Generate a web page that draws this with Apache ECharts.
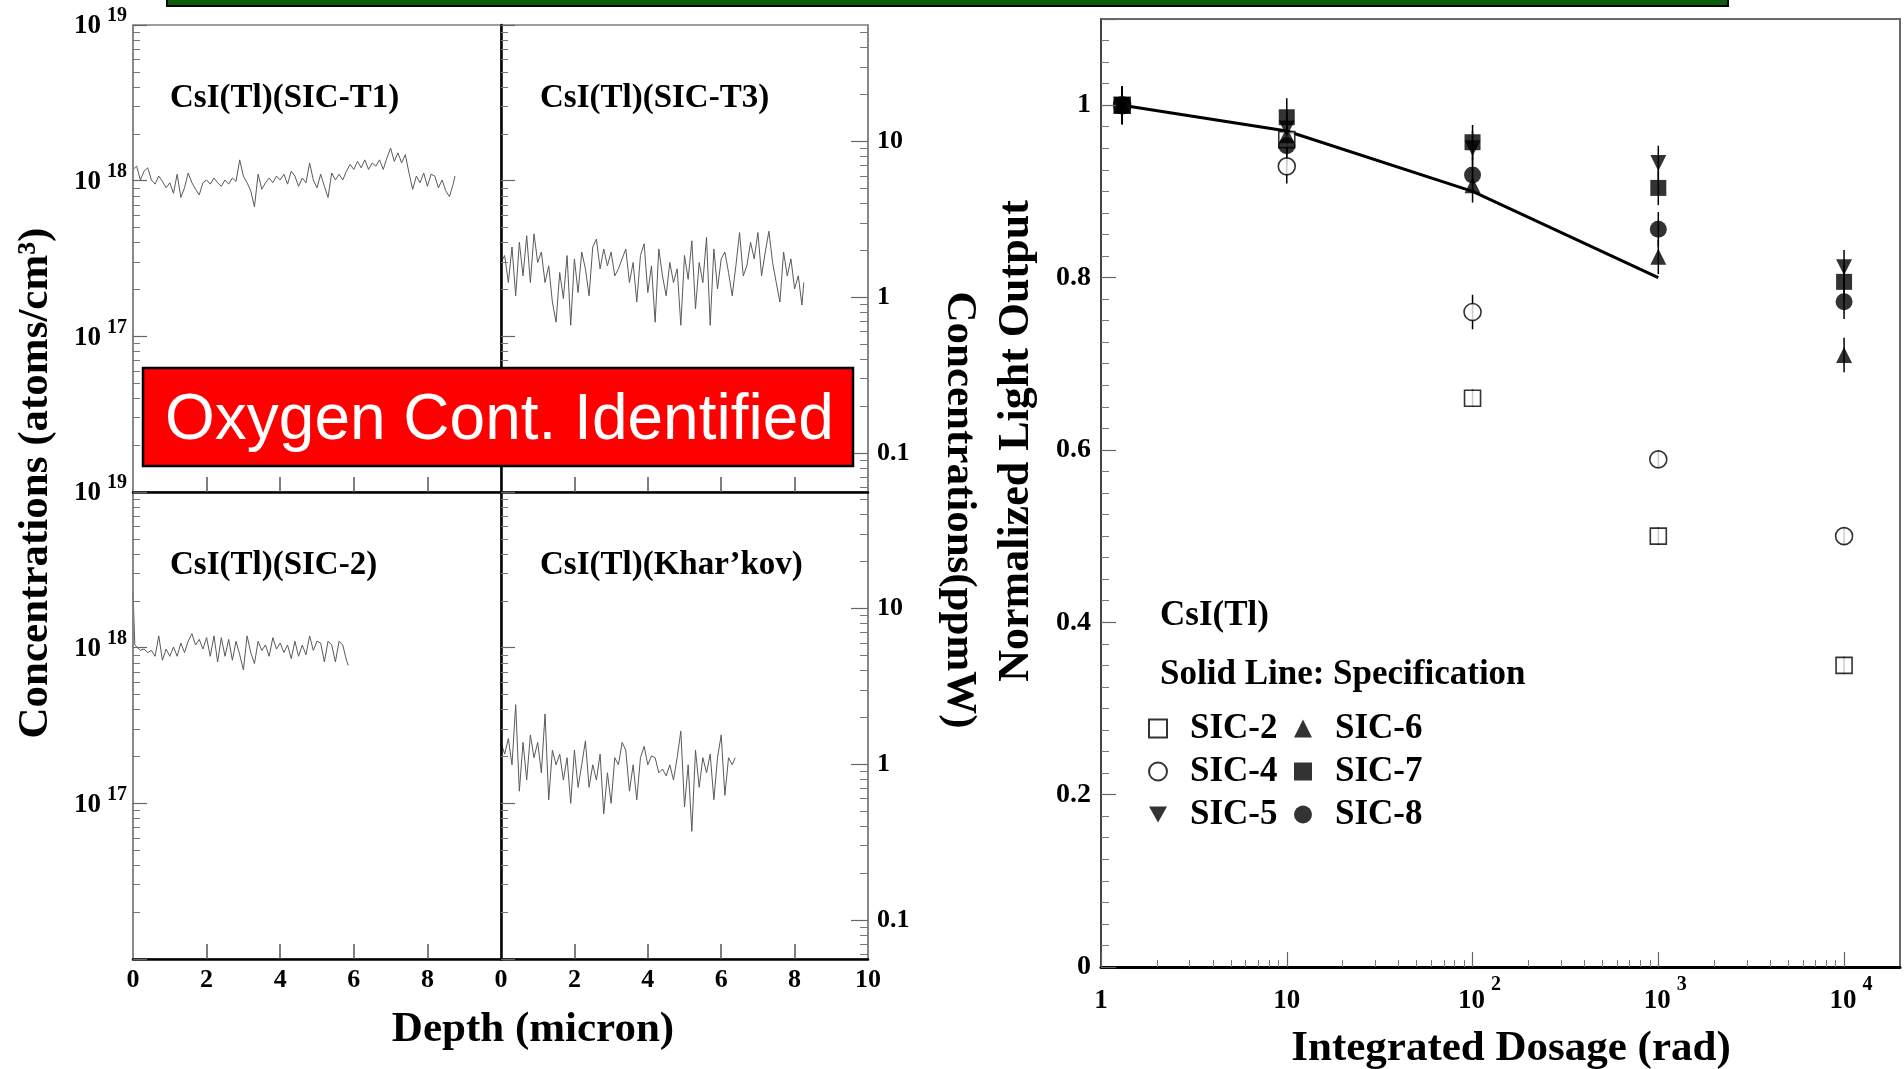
<!DOCTYPE html>
<html>
<head>
<meta charset="utf-8">
<script src="https://cdn.jsdelivr.net/npm/echarts@6/dist/echarts.min.js"></script>
<style>
html,body{margin:0;padding:0;background:#ffffff;}
#c{width:1904px;height:1069px;}
</style>
</head>
<body>
<div id="c"></div>
<script>
// ---------------- DATA ----------------
// SIMS depth profiles: [depth (micron), concentration]
// CsI(Tl)(SIC-T1): concentration in units of 1e18 atoms/cm^3
const sicT1_e18 = [[0,1.18],[0.1,1.24],[0.2,1.01],[0.3,1.15],[0.4,1.21],[0.5,1.01],[0.6,0.95],[0.7,1.07],[0.8,0.99],[0.9,0.90],[1.0,0.97],[1.1,0.83],[1.2,1.10],[1.3,0.78],[1.4,0.90],[1.5,1.12],[1.6,0.97],[1.7,0.88],[1.8,0.81],[1.9,0.97],[2.0,1.01],[2.1,0.95],[2.2,1.04],[2.3,0.97],[2.4,0.92],[2.5,1.01],[2.6,0.95],[2.7,1.04],[2.8,0.99],[2.9,1.36],[3.0,1.07],[3.1,0.97],[3.2,0.86],[3.3,0.68],[3.4,1.10],[3.5,0.88],[3.6,0.97],[3.7,1.04],[3.8,0.97],[3.9,1.07],[4.0,1.01],[4.1,1.10],[4.2,0.95],[4.3,1.15],[4.4,1.07],[4.5,0.92],[4.6,1.04],[4.7,0.97],[4.8,1.30],[4.9,1.01],[5.0,0.90],[5.1,1.10],[5.2,0.92],[5.3,0.78],[5.4,1.12],[5.5,1.01],[5.6,1.10],[5.7,1.01],[5.8,1.15],[5.9,1.27],[6.0,1.18],[6.1,1.33],[6.2,1.21],[6.3,1.36],[6.4,1.18],[6.5,1.30],[6.6,1.24],[6.7,1.36],[6.8,1.18],[6.9,1.40],[7.0,1.62],[7.1,1.33],[7.2,1.51],[7.3,1.30],[7.4,1.47],[7.5,1.12],[7.6,0.88],[7.7,1.07],[7.8,0.97],[7.9,1.12],[8.0,0.92],[8.1,1.10],[8.2,1.07],[8.3,0.90],[8.4,1.01],[8.5,0.86],[8.6,0.79],[8.7,0.95],[8.75,1.07]];
// CsI(Tl)(SIC-T3): concentration in ppmW
const sicT3_ppm = [[0,1.67],[0.1,1.85],[0.2,1.24],[0.3,2.1],[0.4,1.02],[0.5,2.25],[0.6,1.37],[0.7,2.48],[0.8,1.24],[0.9,2.55],[1.0,1.67],[1.1,1.95],[1.2,1.24],[1.3,1.59],[1.4,0.93],[1.5,0.69],[1.6,1.44],[1.7,0.98],[1.8,1.85],[1.9,0.66],[2.0,1.76],[2.1,1.07],[2.2,1.95],[2.3,1.52],[2.4,1.02],[2.5,2.1],[2.6,2.36],[2.7,1.52],[2.8,2.04],[2.9,1.59],[3.0,1.95],[3.1,1.37],[3.2,1.52],[3.3,1.76],[3.4,2.04],[3.5,1.24],[3.6,1.67],[3.7,0.93],[3.8,1.85],[3.9,2.2],[4.0,1.07],[4.1,1.59],[4.2,0.69],[4.3,2.04],[4.4,1.37],[4.5,1.02],[4.6,1.67],[4.7,1.24],[4.8,1.52],[4.9,0.66],[5.0,1.85],[5.1,1.3],[5.2,2.3],[5.3,0.84],[5.4,1.67],[5.5,1.24],[5.6,2.42],[5.7,0.66],[5.8,2.04],[5.9,1.13],[6.0,1.76],[6.1,1.95],[6.2,1.44],[6.3,1.02],[6.4,1.59],[6.5,2.6],[6.6,1.37],[6.7,1.59],[6.8,2.25],[6.9,1.76],[7.0,2.6],[7.1,1.37],[7.2,1.95],[7.3,2.65],[7.4,1.67],[7.5,1.24],[7.6,0.93],[7.7,1.95],[7.8,1.37],[7.9,1.76],[8.0,1.13],[8.1,1.37],[8.2,0.89],[8.25,1.24]];
// CsI(Tl)(SIC-2): concentration in units of 1e18 atoms/cm^3
const sic2_e18 = [[0,2.25],[0.05,1.04],[0.1,1.04],[0.2,0.96],[0.3,0.98],[0.4,0.93],[0.5,0.96],[0.6,0.88],[0.7,1.19],[0.8,0.83],[0.9,0.98],[1.0,0.88],[1.1,1.01],[1.2,0.88],[1.3,1.07],[1.4,0.93],[1.5,1.10],[1.6,1.23],[1.7,1.04],[1.8,1.13],[1.9,0.98],[2.0,1.16],[2.1,0.88],[2.2,1.19],[2.3,0.81],[2.4,1.16],[2.5,0.88],[2.6,1.13],[2.7,0.83],[2.8,1.10],[2.9,0.90],[3.0,0.72],[3.1,1.19],[3.2,0.93],[3.3,0.79],[3.4,1.10],[3.5,0.96],[3.6,1.04],[3.7,0.88],[3.8,1.16],[3.9,0.98],[4.0,1.07],[4.1,0.93],[4.2,1.04],[4.3,0.85],[4.4,1.10],[4.5,0.88],[4.6,1.04],[4.7,0.90],[4.8,1.19],[4.9,0.96],[5.0,1.10],[5.1,1.07],[5.2,0.81],[5.3,1.10],[5.4,1.04],[5.5,0.81],[5.6,1.10],[5.7,1.04],[5.8,0.83],[5.85,0.77]];
// CsI(Tl)(Khar'kov): concentration in ppmW
const kharkov_ppm = [[0,1.38],[0.1,1.16],[0.2,1.46],[0.3,0.99],[0.4,2.41],[0.5,0.67],[0.6,1.38],[0.7,0.79],[0.8,1.54],[0.9,1.10],[1.0,1.38],[1.1,0.88],[1.2,2.10],[1.3,0.59],[1.4,1.23],[1.5,0.99],[1.6,1.16],[1.7,0.79],[1.8,1.10],[1.9,0.56],[2.0,1.23],[2.1,0.71],[2.2,0.99],[2.3,1.41],[2.4,0.71],[2.5,0.99],[2.6,0.79],[2.7,1.16],[2.8,0.48],[2.9,0.88],[3.0,0.56],[3.1,1.10],[3.2,0.99],[3.3,1.38],[3.4,1.23],[3.5,0.67],[3.6,0.99],[3.7,0.59],[3.8,1.10],[3.9,1.30],[4.0,0.99],[4.1,1.13],[4.2,1.10],[4.3,0.88],[4.4,0.93],[4.5,0.84],[4.6,0.99],[4.7,0.79],[4.8,1.10],[4.9,1.63],[5.0,0.53],[5.1,0.99],[5.2,0.37],[5.3,1.23],[5.4,0.71],[5.5,1.10],[5.6,0.88],[5.7,1.16],[5.8,0.59],[5.9,1.10],[6.0,1.54],[6.1,0.63],[6.2,1.10],[6.3,0.99],[6.38,1.10]];

// Radiation damage: normalized light output vs integrated dosage (rad)
const dose = [1.3, 10, 100, 1000, 10000];
const sic2Out = [1.0, 0.96, 0.66, 0.50, 0.35];
const sic4Out = [1.0, 0.929, 0.76, 0.589, 0.50];
const sic5Out = [1.0, 0.973, 0.95, 0.933, 0.812];
const sic6Out = [1.0, 0.965, 0.907, 0.824, 0.71];
const sic7Out = [1.0, 0.986, 0.957, 0.904, 0.795];
const sic8Out = [1.0, 0.953, 0.919, 0.856, 0.772];
const sic2Err = [0.02, 0.015, 0.01, 0.01, 0.01];
const sic4Err = [0.02, 0.02, 0.02, 0.01, 0.01];
const filledErr = [0.022, 0.022, 0.02, 0.02, 0.02];
const specDose = [1.3, 10, 100, 1000];
const specOut = [1.0, 0.97, 0.90, 0.80];

// Tick positions / labels
const atomsMajor = [1e16, 1e17, 1e18, 1e19];
const atomsLabels = [1e17, 1e18, 1e19];
const atomsMinor = [2e16,3e16,4e16,5e16,6e16,7e16,8e16,9e16,2e17,3e17,4e17,5e17,6e17,7e17,8e17,9e17,2e18,3e18,4e18,5e18,6e18,7e18,8e18,9e18];
const ppmMajor = [0.1, 1, 10];
const ppmMinor = [0.06,0.07,0.08,0.09,0.2,0.3,0.4,0.5,0.6,0.7,0.8,0.9,2,3,4,5,6,7,8,9,20,30,40,50];
const depthTicks = [2, 4, 6, 8];
const depthLabelsC = [0, 2, 4, 6, 8];
const depthLabelsD = [0, 2, 4, 6, 8, 10];
const doseMajor = [1, 10, 100, 1000, 10000];
const doseMinor = [2,3,4,5,6,7,8,9,20,30,40,50,60,70,80,90,200,300,400,500,600,700,800,900,2000,3000,4000,5000,6000,7000,8000,9000];

// ---------------- STYLE ----------------
const SERIF = '"Liberation Serif","Times New Roman",serif';
const SANS = '"Liberation Sans",Arial,sans-serif';
const GRAY = '#808080';
const tickFont = {fontFamily: SERIF, fontWeight: 'bold', fontSize: 26, color: '#000'};
function makeRich(boxH) {
  return {
    b: {fontFamily: SERIF, fontWeight: 'bold', fontSize: 27, color: '#000', lineHeight: 27, verticalAlign: 'bottom', padding: [0,0,4,0]},
    s: {fontFamily: SERIF, fontWeight: 'bold', fontSize: 20, color: '#000', lineHeight: 18, verticalAlign: 'top', padding: [0,0,0,6]},
    h: {lineHeight: boxH, width: 0},
    sp: {width: 14}
  };
}
function atomsFmt(v) { return '{b|10}{s|' + Math.round(Math.log10(v)) + '}{h|}'; }
function doseFmt(v) {
  const e = Math.round(Math.log10(v));
  if (e === 0) return '{b|1}{h|}';
  if (e === 1) return '{b|10}{h|}';
  return '{sp|}{b|10}{s|' + e + '}{h|}';
}
const PPM_MIN = 0.056, PPM_MAX = 56;

const gridDefs = [
  {left: 133, top: 25, width: 368, height: 467},
  {left: 501, top: 25, width: 367, height: 467},
  {left: 133, top: 492, width: 368, height: 467},
  {left: 501, top: 492, width: 367, height: 467},
  {left: 1101, top: 19, width: 799, height: 948}
];
const grid = gridDefs.map((g, i) => Object.assign({
  show: true, borderColor: i === 4 ? '#6a6a6a' : GRAY, borderWidth: i === 4 ? 2 : 1.5,
  backgroundColor: 'rgba(0,0,0,0)', containLabel: false, outerBoundsMode: 'none'
}, g));

function depthAxis(gi, labels) {
  return {
    type: 'value', gridIndex: gi, min: 0, max: 10, position: 'bottom', z: 5,
    axisLine: {show: true, onZero: false, lineStyle: {color: '#000', width: 2.5}},
    axisTick: {show: true, inside: true, length: 15, customValues: depthTicks, lineStyle: {color: '#555', width: 1.5}},
    axisLabel: labels ? Object.assign({show: true, customValues: labels, margin: 8}, tickFont) : {show: false},
    splitLine: {show: false}
  };
}
function atomsAxis(gi, lineColor, lineWidth, withLabels) {
  return {
    type: 'log', logBase: 10, gridIndex: gi, min: 1e16, max: 1e19, position: 'left', z: 5,
    axisLine: {show: true, onZero: false, lineStyle: {color: lineColor, width: lineWidth}},
    axisTick: {show: true, inside: true, length: 14, customValues: atomsMajor, lineStyle: {color: '#666', width: 1.2}},
    axisLabel: withLabels ? {show: true, customValues: atomsLabels, formatter: atomsFmt, rich: makeRich(38), margin: 6} : {show: false},
    splitLine: {show: false}
  };
}
function atomsMinorAxis(gi) {
  return {
    type: 'log', logBase: 10, gridIndex: gi, min: 1e16, max: 1e19, position: 'left', z: 5,
    axisLine: {show: false},
    axisTick: {show: true, inside: true, length: 7, customValues: atomsMinor, lineStyle: {color: '#777', width: 1}},
    axisLabel: {show: false}, splitLine: {show: false}
  };
}
function ppmAxis(gi) {
  return {
    type: 'log', logBase: 10, gridIndex: gi, min: PPM_MIN, max: PPM_MAX, position: 'right', z: 5,
    axisLine: {show: true, onZero: false, lineStyle: {color: GRAY, width: 1.5}},
    axisTick: {show: true, inside: true, length: 17, customValues: ppmMajor, lineStyle: {color: '#666', width: 1.2}},
    axisLabel: Object.assign({show: true, customValues: ppmMajor, formatter: v => String(v), margin: 9}, tickFont),
    splitLine: {show: false}
  };
}
function ppmMinorAxis(gi) {
  return {
    type: 'log', logBase: 10, gridIndex: gi, min: PPM_MIN, max: PPM_MAX, position: 'right', z: 5,
    axisLine: {show: false},
    axisTick: {show: true, inside: true, length: 8, customValues: ppmMinor, lineStyle: {color: '#777', width: 1}},
    axisLabel: {show: false}, splitLine: {show: false}
  };
}

const xAxis = [
  depthAxis(0, null), depthAxis(1, null), depthAxis(2, depthLabelsC), depthAxis(3, depthLabelsD),
  {
    type: 'log', logBase: 10, gridIndex: 4, min: 1, max: 20000, position: 'bottom', z: 5,
    axisLine: {show: true, onZero: false, lineStyle: {color: '#000', width: 3}},
    axisTick: {show: true, inside: true, length: 15, customValues: doseMajor, lineStyle: {color: '#666', width: 1.2}},
    axisLabel: {show: true, customValues: doseMajor, formatter: doseFmt, rich: makeRich(44), margin: 8},
    splitLine: {show: false}
  },
  {
    type: 'log', logBase: 10, gridIndex: 4, min: 1, max: 20000, position: 'bottom', z: 5,
    axisLine: {show: false},
    axisTick: {show: true, inside: true, length: 7, customValues: doseMinor, lineStyle: {color: '#777', width: 1}},
    axisLabel: {show: false}, splitLine: {show: false}
  }
];

const yAxis = [
  atomsAxis(0, GRAY, 1.5, true),   // 0
  atomsMinorAxis(0),               // 1
  atomsAxis(1, '#000', 2.5, false),// 2
  atomsMinorAxis(1),               // 3
  ppmAxis(1),                      // 4
  ppmMinorAxis(1),                 // 5
  atomsAxis(2, GRAY, 1.5, true),   // 6
  atomsMinorAxis(2),               // 7
  atomsAxis(3, '#000', 2.5, false),// 8
  atomsMinorAxis(3),               // 9
  ppmAxis(3),                      // 10
  ppmMinorAxis(3),                 // 11
  {                                // 12
    type: 'value', gridIndex: 4, min: 0, max: 1.1, interval: 0.2, position: 'left', z: 5,
    axisLine: {show: true, onZero: false, lineStyle: {color: '#444', width: 2}},
    axisTick: {show: true, inside: true, length: 15, lineStyle: {color: '#666', width: 1.2}},
    minorTick: {show: true, splitNumber: 8, length: 8, lineStyle: {color: '#777', width: 1}},
    axisLabel: {show: true, margin: 10, showMaxLabel: false, fontSize: 28, fontFamily: SERIF, fontWeight: 'bold', color: '#000'},
    splitLine: {show: false}
  }
];

const traceStyle = {color: '#5a5a5a', width: 1};
function profile(name, xi, yi, pts, scale) {
  return {
    type: 'line', name: name, xAxisIndex: xi, yAxisIndex: yi,
    data: pts.map(p => [p[0], p[1] * scale]),
    showSymbol: false, symbol: 'none', lineStyle: traceStyle, z: 3, silent: true
  };
}
const zip = (xs, ys) => xs.map((x, i) => [x, ys[i]]);
function sample(name, ys, symbol, filled, size) {
  return {
    type: 'scatter', name: name, xAxisIndex: 4, yAxisIndex: 12,
    data: zip(dose, ys), symbol: symbol, symbolSize: size, z: 4,
    itemStyle: filled ? {color: '#000', borderColor: '#000', borderWidth: 0}
                      : {color: '#fff', borderColor: '#000', borderWidth: 1.6}
  };
}
const triDown = 'path://M0,0 L10,0 L5,9 Z';
const errData = [];
[[sic2Out, sic2Err], [sic4Out, sic4Err], [sic5Out, filledErr], [sic6Out, filledErr], [sic7Out, filledErr], [sic8Out, filledErr]]
  .forEach(([ys, es]) => dose.forEach((d, i) => errData.push([d, ys[i], es[i]])));

const series = [
  profile('CsI(Tl)(SIC-T1)', 0, 0, sicT1_e18, 1e18),
  profile('CsI(Tl)(SIC-T3)', 1, 4, sicT3_ppm, 1),
  profile('CsI(Tl)(SIC-2)', 2, 6, sic2_e18, 1e18),
  profile("CsI(Tl)(Khar'kov)", 3, 10, kharkov_ppm, 1),
  {
    type: 'line', name: 'Specification', xAxisIndex: 4, yAxisIndex: 12,
    data: zip(specDose, specOut), showSymbol: false, symbol: 'none',
    lineStyle: {color: '#000', width: 3}, z: 2, silent: true
  },
  {
    type: 'custom', name: 'errors', xAxisIndex: 4, yAxisIndex: 12, data: errData, z: 2, silent: true,
    encode: {x: 0, y: 1},
    renderItem: function (params, api) {
      const x = api.value(0), y = api.value(1), e = api.value(2);
      const p1 = api.coord([x, y - e]), p2 = api.coord([x, y + e]);
      return {type: 'line', shape: {x1: p1[0], y1: p1[1], x2: p2[0], y2: p2[1]}, style: {stroke: '#000', lineWidth: 1.5}};
    }
  },
  sample('SIC-2', sic2Out, 'rect', false, 16),
  sample('SIC-4', sic4Out, 'circle', false, 17),
  sample('SIC-6', sic6Out, 'triangle', true, 16),
  sample('SIC-5', sic5Out, triDown, true, 16),
  sample('SIC-8', sic8Out, 'circle', true, 17),
  sample('SIC-7', sic7Out, 'rect', true, 16)
];

const titleFont = {fontFamily: SERIF, fontWeight: 'bold', fill: '#000'};
function label(text, x, y, size, opts) {
  return Object.assign({
    type: 'text', x: x, y: y, z: 50, silent: true,
    style: Object.assign({text: text, fontSize: size, align: 'left', verticalAlign: 'middle'}, titleFont)
  }, opts || {});
}
function centered(text, x, y, size, rotation) {
  return {
    type: 'text', x: x, y: y, rotation: rotation || 0, z: 50, silent: true,
    style: Object.assign({text: text, fontSize: size, align: 'center', verticalAlign: 'middle'}, titleFont)
  };
}

const graphic = [
  {type: 'rect', z: 60, silent: true, shape: {x: 167, y: -6, width: 1561, height: 12},
   style: {fill: '#0b5e0b', stroke: '#000', lineWidth: 2}},
  label('CsI(Tl)(SIC-T1)', 170, 98, 33),
  label('CsI(Tl)(SIC-T3)', 540, 98, 33),
  label('CsI(Tl)(SIC-2)', 170, 565, 33),
  label('CsI(Tl)(Khar\u2019kov)', 540, 565, 33),
  centered('Concentrations (atoms/cm\u00B3)', 36, 483, 43, Math.PI / 2),
  centered('Concentrations(ppmW)', 959, 510, 43, -Math.PI / 2),
  centered('Depth (micron)', 533, 1030, 43),
  centered('Normalized Light Output', 1017, 441, 44, Math.PI / 2),
  centered('Integrated Dosage (rad)', 1511, 1049, 43),
  label('CsI(Tl)', 1160, 616, 35),
  label('Solid Line: Specification', 1160, 675, 35),
  {type: 'rect', z: 100, silent: true, shape: {x: 143, y: 368, width: 710, height: 98},
   style: {fill: '#ff0000', stroke: '#000', lineWidth: 2.5}},
  {type: 'text', z: 101, silent: true, x: 165, y: 421,
   style: {text: 'Oxygen Cont. Identified', fontFamily: SANS, fontSize: 64, fill: '#ffffff', align: 'left', verticalAlign: 'middle'}}
];

const option = {
  backgroundColor: '#ffffff',
  animation: false,
  grid: grid,
  xAxis: xAxis,
  yAxis: yAxis,
  legend: {
    data: ['SIC-2', 'SIC-4', 'SIC-5', 'SIC-6', 'SIC-7', 'SIC-8'],
    orient: 'vertical', left: 1143, top: 706, height: 130,
    itemWidth: 18, itemHeight: 18, itemGap: 8, selectedMode: false,
    textStyle: {fontFamily: SERIF, fontWeight: 'bold', fontSize: 35, color: '#000', lineHeight: 35, width: 95, padding: [0, 0, 0, 18]}
  },
  graphic: graphic,
  series: series
};

const chart = echarts.init(document.getElementById('c'), null, {renderer: 'canvas', width: 1904, height: 1069});
chart.setOption(option);
</script>
</body>
</html>
